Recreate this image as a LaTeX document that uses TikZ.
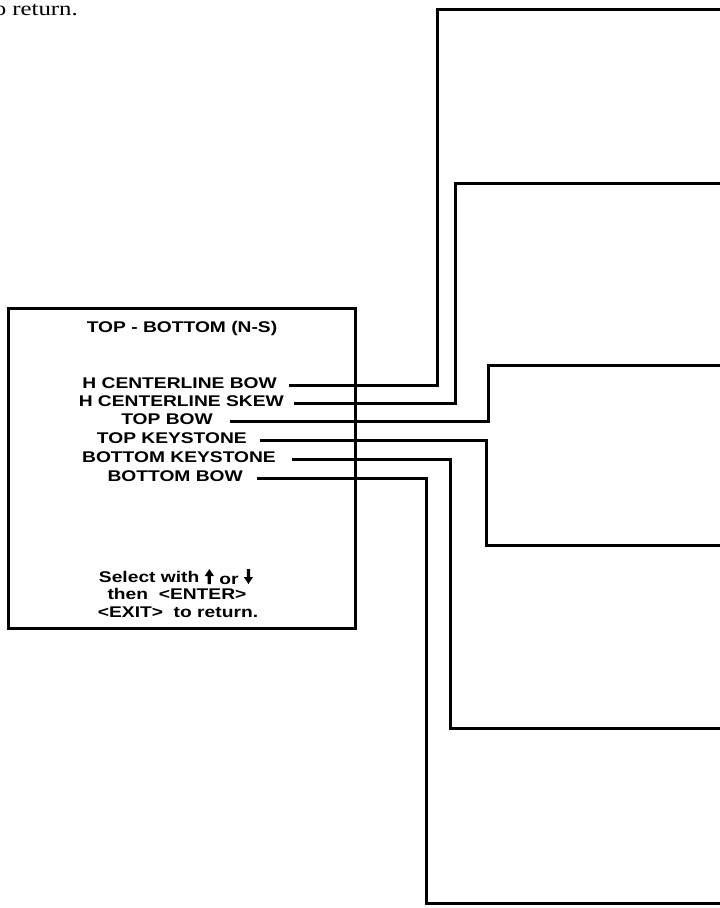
\documentclass[tikz,border=0pt]{standalone}
\usepackage{fontspec}
\newfontfamily\lab[FakeStretch=1.24]{Liberation Sans Bold}
\newfontfamily\ser[FakeStretch=1.24]{Liberation Serif}
\newcommand\uparr{\tikz[x=1pt,y=1pt,baseline=0pt]\fill (-1.6,-2) -- (-1.6,6) -- (-4.6,6) -- (0,13) -- (4.6,6) -- (1.6,6) -- (1.6,-2) -- cycle;}
\newcommand\dnarr{\tikz[x=1pt,y=1pt,baseline=0pt]\fill (-1.6,13) -- (-1.6,5) -- (-4.6,5) -- (0,-2) -- (4.6,5) -- (1.6,5) -- (1.6,13) -- cycle;}
\tikzset{
  item/.style={font=\lab\fontsize{15.5}{18}\selectfont, inner sep=0pt, anchor=base east},
  ctext/.style={font=\lab\fontsize{15.5}{18}\selectfont, inner sep=0pt, anchor=base},
  conn/.style={line width=3pt},
  frame/.style={draw, line width=3pt, outer sep=0pt, inner sep=0pt, anchor=north west}
}
\begin{document}
\begin{tikzpicture}[x=1pt,y=-1pt]
\useasboundingbox (0,0) rectangle (720,908);
\node[font=\ser\fontsize{20}{24}\selectfont, inner sep=0pt, anchor=base east] (prev) at (78,15) {o return.};
\node[frame, minimum width=347pt, minimum height=320pt] (box) at (8,308) {};
\node[ctext] (title) at (182,332) {TOP - BOTTOM (N-S)};
\node[item] (h1) at (277,388) {H CENTERLINE BOW};
\node[item] (h2) at (284,406) {H CENTERLINE SKEW};
\node[item] (h3) at (213,424.5) {TOP BOW};
\node[item] (h4) at (247,443) {TOP KEYSTONE};
\node[item] (h5) at (276,462) {BOTTOM KEYSTONE};
\node[item] (h6) at (243,481.5) {BOTTOM BOW};
\node[ctext] (sel) at (176,582) {Select with \uparr{} \raisebox{-2.5pt}{or} \dnarr{}};
\node[ctext] (then) at (177,599) {then\ \ {<}ENTER{>}};
\node[ctext] (exit) at (178,617) {{<}EXIT{>}\ \ to return.};
\coordinate (e1) at (722,9);
\coordinate (e2) at (722,183);
\coordinate (e3) at (722,365);
\coordinate (e4) at (722,545);
\coordinate (e5) at (722,728);
\coordinate (e6) at (722,903);
\draw[conn] ([xshift=12pt,yshift=-2.5pt]h1.east) -| (437,9) -- (e1);
\draw[conn] ([xshift=10pt,yshift=-2.5pt]h2.east) -| (455,183) -- (e2);
\draw[conn] ([xshift=17pt,yshift=-2.5pt]h3.east) -| (488,365) -- (e3);
\draw[conn] ([xshift=13pt,yshift=-2.5pt]h4.east) -| (486,545) -- (e4);
\draw[conn] ([xshift=16pt,yshift=-2.5pt]h5.east) -| (450,728) -- (e5);
\draw[conn] ([xshift=14pt,yshift=-2.5pt]h6.east) -| (426,903) -- (e6);
\end{tikzpicture}
\end{document}
